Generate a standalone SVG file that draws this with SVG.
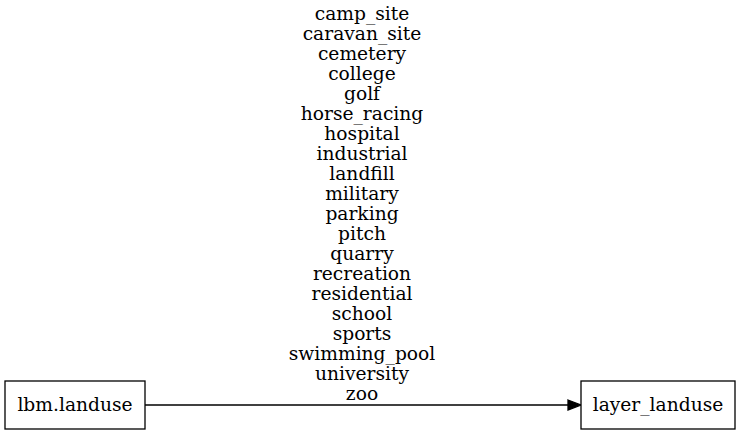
<svg xmlns="http://www.w3.org/2000/svg" width="741" height="435" viewBox="0 0 741 435">
<style>
text{font-family:"DejaVu Serif","Liberation Serif",serif;font-size:18.67px;fill:#000;text-anchor:middle}
.box{fill:#fff;stroke:#000;stroke-width:1.3}
.edge{stroke:#000;stroke-width:1.3;fill:none}
</style>
<rect width="741" height="435" fill="#fff"/>
<g id="connectors">
<path class="edge" d="M145,405 L568,405"/>
<polygon points="568,400 581,405 568,410" fill="#000" stroke="#000" stroke-width="1.3"/>
<g id="edge-label">
<text x="362" y="20">camp_site</text>
<text x="362" y="40">caravan_site</text>
<text x="362" y="60">cemetery</text>
<text x="362" y="80">college</text>
<text x="362" y="100">golf</text>
<text x="362" y="120">horse_racing</text>
<text x="362" y="140">hospital</text>
<text x="362" y="160">industrial</text>
<text x="362" y="180">landfill</text>
<text x="362" y="200">military</text>
<text x="362" y="220">parking</text>
<text x="362" y="240">pitch</text>
<text x="362" y="260">quarry</text>
<text x="362" y="280">recreation</text>
<text x="362" y="300">residential</text>
<text x="362" y="320">school</text>
<text x="362" y="340">sports</text>
<text x="362" y="360">swimming_pool</text>
<text x="362" y="380">university</text>
<text x="362" y="400">zoo</text>
</g>
</g>
<g id="lbm.landuse">
<rect class="box" x="5" y="381" width="140" height="48"/>
<text x="75" y="411">lbm.landuse</text>
</g>
<g id="layer_landuse">
<rect class="box" x="581" y="381" width="154" height="48"/>
<text x="658" y="411">layer_landuse</text>
</g>
</svg>
